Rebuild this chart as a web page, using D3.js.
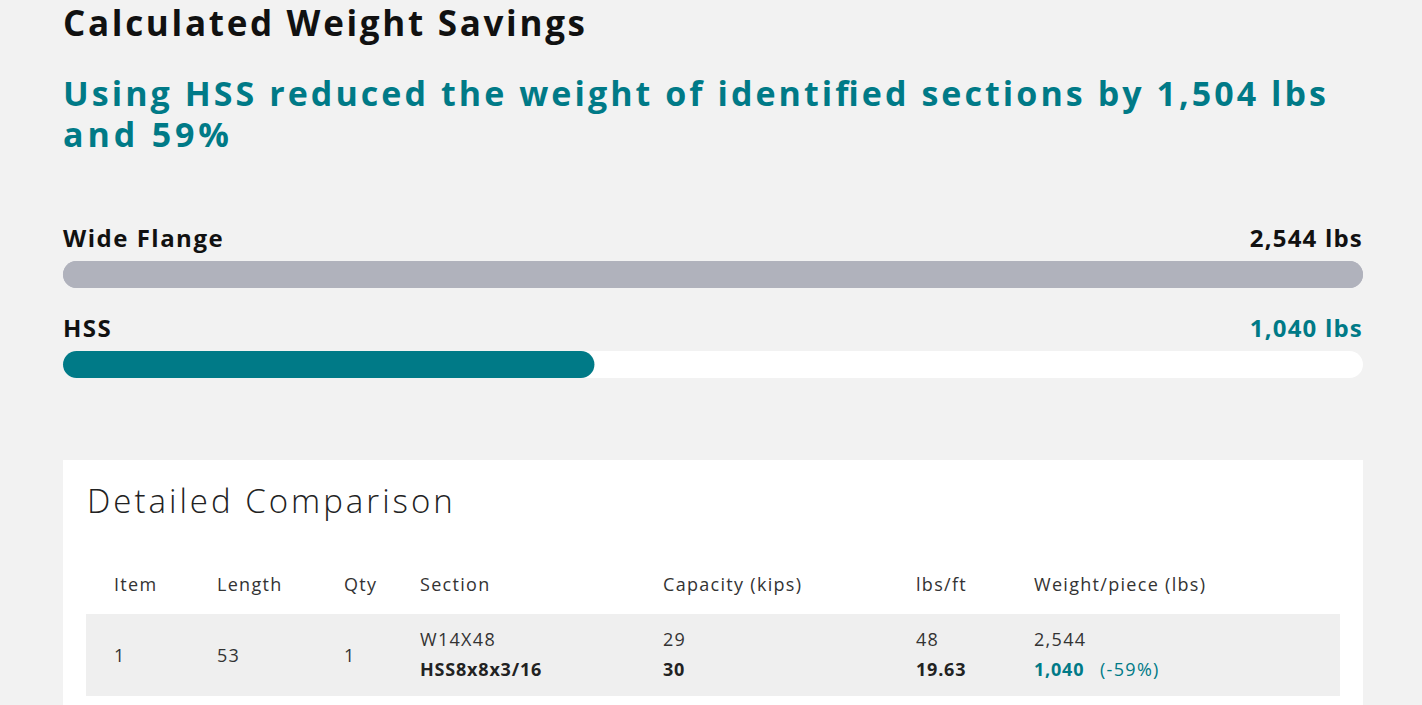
<!DOCTYPE html>
<html><head><meta charset="utf-8">
<script src="https://cdn.jsdelivr.net/npm/d3@7"></script>
<style>body{margin:0;background:#f2f2f2;}svg{display:block;font-family:"Open Sans",sans-serif;}</style>
</head><body><svg id="c" width="1422" height="705"></svg>
<script>
const title = "Calculated Weight Savings";
const subtitleLines = ["Using HSS reduced the weight of identified sections by 1,504 lbs", "and 59%"];
const categories = ["Wide Flange", "HSS"];
const weights = [2544, 1040];
const weightLabels = ["2,544 lbs", "1,040 lbs"];
const headers = ["Item","Length","Qty","Section","Capacity (kips)","lbs/ft","Weight/piece (lbs)"];
const rowItem = ["1","53","1"];
const rowWF = ["W14X48","29","48","2,544"];
const rowHSS = ["HSS8x8x3/16","30","19.63","1,040"];
const rowPct = "(-59%)";

const teal = "#007a87";
const svg = d3.select("#c");
svg.append("text").attr("x",63).attr("y",36).attr("font-size",35).attr("font-weight",700).attr("fill","#111")
  .attr("textLength",522).attr("lengthAdjust","spacing").text(title);
const subLens = [1263, 166];
svg.selectAll(".sub").data(subtitleLines).join("text").attr("x",63).attr("y",(d,i)=>106+i*41)
  .attr("font-size",34).attr("font-weight",700).attr("fill",teal)
  .attr("textLength",(d,i)=>subLens[i]).attr("lengthAdjust","spacing").text(d=>d);

const x = d3.scaleLinear().domain([0, weights[0]]).range([63,1363]);
const y = d3.scaleBand().domain(categories).range([226,406]).paddingInner(0);
categories.forEach((c,i)=>{
  const y0 = y(c);
  svg.append("text").attr("x",63).attr("y",y0+21).attr("font-size",24).attr("font-weight",700).attr("letter-spacing",1.5).attr("fill","#111").text(c);
  svg.append("text").attr("x",1363).attr("y",y0+21).attr("text-anchor","end").attr("font-size",24).attr("font-weight",700).attr("letter-spacing",1.2)
    .attr("fill",i?teal:"#111").text(weightLabels[i]);
  svg.append("rect").attr("x",63).attr("y",y0+35).attr("width",x(weights[0])-63).attr("height",27).attr("rx",13.5).attr("fill",i?"#ffffff":"#b0b2bc");
  svg.append("rect").attr("x",63).attr("y",y0+35).attr("width",x(weights[i])-63).attr("height",27).attr("rx",13.5).attr("fill",i?teal:"#b0b2bc");
});

svg.append("rect").attr("x",63).attr("y",460).attr("width",1300).attr("height",260).attr("fill","#fff");
svg.append("text").attr("x",87).attr("y",513).attr("font-size",33).attr("font-weight",300).attr("letter-spacing",3).attr("fill","#222").text("Detailed Comparison");
const cols = [114,217,344,420,663,916,1034];
const ls = 1.3;
svg.selectAll(".h").data(headers).join("text").attr("x",(d,i)=>cols[i]).attr("y",591).attr("font-size",18).attr("letter-spacing",ls).attr("fill","#333").text(d=>d);
svg.append("rect").attr("x",86).attr("y",614).attr("width",1254).attr("height",82).attr("fill","#efefef");
rowItem.forEach((d,i)=>svg.append("text").attr("x",cols[i]).attr("y",662).attr("font-size",18).attr("letter-spacing",ls).attr("fill","#333").text(d));
rowWF.forEach((d,i)=>svg.append("text").attr("x",cols[i+3]).attr("y",646).attr("font-size",18).attr("letter-spacing",ls).attr("fill","#333").text(d));
rowHSS.forEach((d,i)=>svg.append("text").attr("x",cols[i+3]).attr("y",676).attr("font-size",18).attr("font-weight",700).attr("letter-spacing",0.8)
  .attr("fill",i===3?teal:"#222").text(d));
svg.append("text").attr("x",1100).attr("y",676).attr("font-size",18).attr("letter-spacing",ls).attr("fill",teal).text(rowPct);
</script></body></html>
